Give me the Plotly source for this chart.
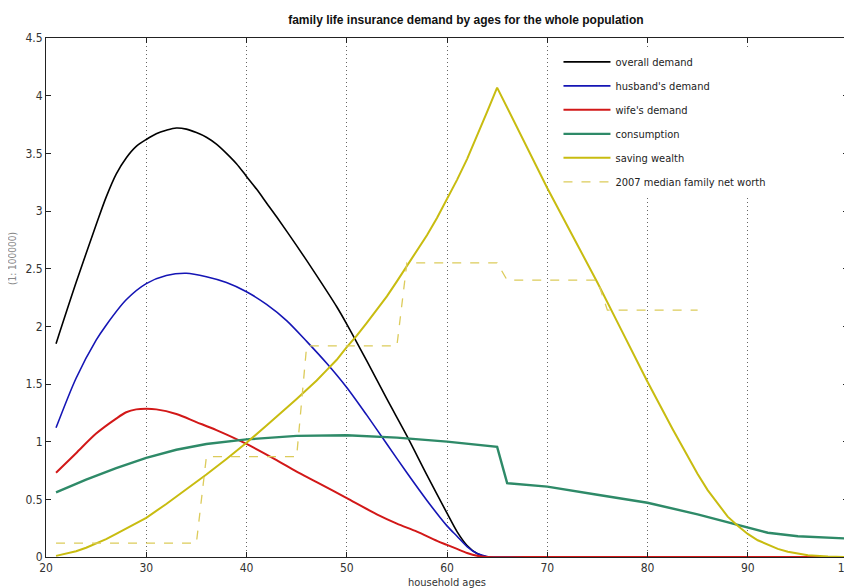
import plotly.graph_objects as go

# ages and values (in units of 100000)
overall_x = [21, 23, 25, 26, 27, 28, 29, 30, 31, 32, 33, 34, 35, 36, 37, 38, 39, 40, 41, 42, 43, 45, 47, 49, 50, 52, 54, 56, 58, 60, 61, 62, 63, 64, 70, 80, 90, 100]
overall_y = [1.85, 2.38, 2.88, 3.12, 3.32, 3.46, 3.56, 3.62, 3.67, 3.70, 3.72, 3.71, 3.68, 3.64, 3.58, 3.50, 3.41, 3.30, 3.19, 3.07, 2.95, 2.70, 2.44, 2.17, 2.02, 1.70, 1.37, 1.05, 0.71, 0.38, 0.22, 0.10, 0.03, 0.0, 0.0, 0.0, 0.0, 0.0]

husband_x = [21, 23, 25, 26, 28, 30, 32, 34, 36, 38, 40, 42, 44, 46, 48, 50, 52, 54, 56, 58, 60, 61, 62, 63, 64, 65, 70, 80, 90, 100]
husband_y = [1.12, 1.55, 1.88, 2.01, 2.23, 2.37, 2.44, 2.46, 2.43, 2.38, 2.30, 2.19, 2.05, 1.87, 1.68, 1.47, 1.23, 0.98, 0.73, 0.49, 0.27, 0.18, 0.09, 0.03, 0.005, 0.0, 0.0, 0.0, 0.0, 0.0]

wife_x = [21, 23, 25, 27, 28, 29, 30, 31, 33, 35, 37, 40, 43, 45, 47, 50, 53, 55, 57, 59, 60, 61, 62, 63, 64, 70, 80, 90, 100]
wife_y = [0.73, 0.90, 1.07, 1.20, 1.255, 1.28, 1.285, 1.28, 1.24, 1.17, 1.10, 0.98, 0.84, 0.74, 0.65, 0.51, 0.37, 0.29, 0.22, 0.14, 0.105, 0.07, 0.035, 0.01, 0.0, 0.0, 0.0, 0.0, 0.0]

consumption_x = [21, 24, 27, 30, 33, 36, 40, 45, 50, 55, 60, 63, 65, 66, 70, 75, 80, 85, 88, 90, 92, 95, 98, 100]
consumption_y = [0.56, 0.67, 0.77, 0.86, 0.93, 0.98, 1.02, 1.05, 1.055, 1.035, 1.00, 0.975, 0.955, 0.64, 0.61, 0.54, 0.47, 0.37, 0.30, 0.25, 0.21, 0.18, 0.165, 0.16]

wealth_x = [21, 22, 23, 24, 25, 26, 27, 28, 29, 30, 32, 34, 36, 38, 40, 42, 44, 45, 46, 47, 48, 49, 50, 51, 52, 53, 54, 55, 56, 57, 58, 59, 60, 61, 62, 63, 64, 65,
            67.5, 70, 72.5, 75, 77.5, 80, 82.5, 85, 86, 87, 88, 89, 90, 91, 92, 93, 94, 95, 96, 98, 100]
wealth_y = [0.01, 0.03, 0.05, 0.08, 0.115, 0.155, 0.20, 0.245, 0.29, 0.34, 0.46, 0.585, 0.715, 0.85, 0.99, 1.14, 1.29, 1.37, 1.45, 1.53, 1.62, 1.71, 1.82, 1.92, 2.03, 2.14, 2.26, 2.39, 2.52, 2.65, 2.79, 2.94, 3.10, 3.27, 3.45, 3.65, 3.86, 4.07,
            3.63, 3.20, 2.79, 2.38, 1.95, 1.52, 1.11, 0.72, 0.58, 0.46, 0.35, 0.27, 0.20, 0.145, 0.105, 0.07, 0.045, 0.028, 0.016, 0.005, 0.0]

networth_x = [21, 35, 36, 45, 46, 55, 56, 65, 66, 75, 76, 85]
networth_y = [0.12, 0.12, 0.87, 0.87, 1.83, 1.83, 2.55, 2.55, 2.40, 2.40, 2.14, 2.14]

tick_x = [20, 30, 40, 50, 60, 70, 80, 90, 100]
tick_y = [0, 0.5, 1, 1.5, 2, 2.5, 3, 3.5, 4, 4.5]
tick_y_text = ["0", "0.5", "1", "1.5", "2", "2.5", "3", "3.5", "4", "4.5"]

NARROW = "Liberation Sans Narrow, DejaVu Sans Condensed, Liberation Sans, Arial"

fig = go.Figure()
series = [
    ("overall demand", overall_x, overall_y, "#000000", 1.6, "solid", "spline"),
    ("husband's demand", husband_x, husband_y, "#1515b5", 1.6, "solid", "spline"),
    ("wife's demand", wife_x, wife_y, "#d21818", 2.0, "solid", "spline"),
    ("consumption", consumption_x, consumption_y, "#2e8a68", 2.4, "solid", "linear"),
    ("saving wealth", wealth_x, wealth_y, "#c8bc10", 2.0, "solid", "linear"),
    ("2007 median family net worth", networth_x, networth_y, "#dccb5a", 1.3, "dash", "linear"),
]
for i, (name, xs, ys, col, w, dash, shape) in enumerate(series):
    line = dict(color=col, width=w, dash=dash, shape=shape)
    if shape == "spline":
        line["smoothing"] = 0.8
    fig.add_trace(go.Scatter(x=xs, y=ys, mode="lines", name=name, line=line,
                             legendgroup=f"g{i}"))

# the page body has an 8px margin, so the figure is 8px smaller and margins shifted
fig.update_layout(
    width=844, height=580,
    paper_bgcolor="white", plot_bgcolor="white",
    margin=dict(l=38, r=4, t=30, b=31, autoexpand=False),
    title=dict(text="<b>family life insurance demand by ages for the whole population</b>",
               x=0.5425, xanchor="center", y=0.979, yanchor="middle",
               font=dict(family="Liberation Sans, Arial", size=12, color="#111")),
    showlegend=True,
    legend=dict(x=0.639, y=0.982, xanchor="left", yanchor="top",
                bgcolor="rgba(255,255,255,1)", borderwidth=0,
                font=dict(family=NARROW, size=11, color="#222"),
                itemwidth=47, tracegroupgap=5),
    xaxis=dict(range=[20, 100], tickmode="array", tickvals=tick_x,
               ticks="inside", ticklen=5, tickcolor="#222",
               showline=True, linecolor="#222", linewidth=1, mirror="ticks",
               showgrid=True, gridcolor="#666", griddash="1px,3px", gridwidth=1,
               zeroline=False, automargin=False, ticklabeloverflow="allow",
               tickfont=dict(family=NARROW, size=12, color="#333")),
    yaxis=dict(range=[0, 4.5], tickmode="array", tickvals=tick_y, ticktext=tick_y_text,
               ticks="inside", ticklen=5, tickcolor="#222",
               showline=True, linecolor="#222", linewidth=1, mirror="ticks",
               showgrid=False, zeroline=False, automargin=False,
               ticklabeloverflow="allow",
               tickfont=dict(family=NARROW, size=12, color="#333")),
    annotations=[
        dict(text="(1: 100000)", xref="paper", yref="paper",
             x=-0.0424, y=0.576, textangle=-90, showarrow=False,
             xanchor="center", yanchor="middle",
             font=dict(family=NARROW, size=10, color="#888")),
        dict(text="household ages", xref="paper", yref="paper",
             x=0.5, y=-0.049, showarrow=False, xanchor="center", yanchor="middle",
             font=dict(family=NARROW, size=11, color="#333")),
    ],
)

fig.write_html("out.html")
